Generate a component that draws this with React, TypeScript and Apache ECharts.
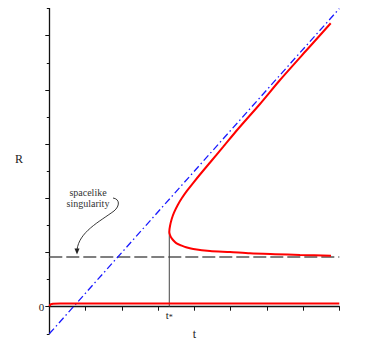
import React, { useEffect, useRef } from "react";
import * as echarts from "echarts";

// ---- data ----
const tStar = 3.31;
const rTurn = 2.77;
const singularityR = 1.83;
const asymptote: [number, number][] = [[0, -1], [8, 11]];
const lowerBranch: [number, number][] = [
  [0, 0.02], [0.04, 0.09], [0.1, 0.11], [0.3, 0.12], [8, 0.12],
];
const upperCurve: [number, number][] = [
  [7.772, 1.882], [6.916, 1.908], [6.226, 1.937], [5.537, 1.97], [4.985, 2.018],
  [4.433, 2.055], [3.972, 2.129], [3.772, 2.192], [3.606, 2.277], [3.537, 2.317],
  [3.473, 2.38], [3.377, 2.524], [3.33, 2.646], [3.31, 2.768], [3.331, 2.987],
  [3.377, 3.238], [3.443, 3.481], [3.54, 3.746], [3.654, 3.999], [3.796, 4.271],
  [3.966, 4.562], [4.174, 4.906], [4.44, 5.33], [4.795, 5.896], [5.206, 6.557],
  [5.812, 7.48], [6.364, 8.365], [7.101, 9.472], [7.763, 10.458],
];
const singularity: [number, number][] = [[0, singularityR], [8, singularityR]];
const tStarLine: [number, number][] = [[tStar, 0], [tStar, rTurn]];
const xTicks = [1, 2, 3, 4, 5, 6, 7, 8];
const yMajorTicks = [0, 2, 4, 6, 8, 10];
const yMinorTicks = [-1, 1, 3, 5, 7, 9, 11];
const yLabels = [0];
const xLabels = [tStar];

const SERIF = "'Liberation Serif', 'DejaVu Serif', serif";

export default function App() {
  const ref = useRef<HTMLDivElement>(null);
  useEffect(() => {
    if (!ref.current) return;
    const chart = echarts.init(ref.current, undefined, { renderer: "svg" });
    chart.setOption({
      animation: false,
      backgroundColor: "#ffffff",
      grid: { left: 49.3, right: 32.7, top: 8.6, bottom: 30.2, outerBoundsMode: "none", containLabel: false },
      xAxis: {
        type: "value",
        min: 0,
        max: 8,
        interval: 1,
        name: "t",
        nameLocation: "middle",
        nameGap: -6,
        nameMoveOverlap: false,
        nameTextStyle: { fontFamily: SERIF, fontSize: 12, color: "#222" },
        axisLine: { onZero: true, onZeroAxisIndex: 0, lineStyle: { color: "#111", width: 1.3 } },
        axisTick: { show: true, inside: false, length: 4, customValues: xTicks, lineStyle: { color: "#111" } },
        axisLabel: {
          show: true,
          customValues: xLabels,
          margin: -26,
          formatter: () => "{a|t}{b|*}",
          rich: {
            a: { fontFamily: SERIF, fontSize: 11, color: "#222" },
            b: { fontFamily: SERIF, fontSize: 8, color: "#222", verticalAlign: "bottom", padding: [6, 0, 0, 0] },
          },
        },
        splitLine: { show: false },
      },
      yAxis: [
        {
          type: "value",
          min: -1,
          max: 11,
          interval: 1,
          position: "left",
          axisLine: { show: true, onZero: false, lineStyle: { color: "#111", width: 1.3 } },
          axisTick: { show: true, length: 4, customValues: yMajorTicks, lineStyle: { color: "#111" } },
          axisLabel: {
            show: true,
            customValues: yLabels,
            margin: 5,
            formatter: (v: number) => String(v),
            fontFamily: SERIF,
            fontSize: 11,
            color: "#222",
          },
          splitLine: { show: false },
        },
        {
          type: "value",
          min: -1,
          max: 11,
          interval: 1,
          position: "left",
          offset: 0,
          axisLine: { show: false, onZero: false },
          axisTick: { show: true, length: 2.5, customValues: yMinorTicks, lineStyle: { color: "#111" } },
          axisLabel: { show: false },
          splitLine: { show: false },
        },
      ],
      series: [
        {
          type: "line",
          data: singularity,
          symbol: "none",
          lineStyle: { color: "#555", width: 1.5, type: [13, 4] },
          z: 2,
        },
        {
          type: "line",
          data: asymptote,
          symbol: "none",
          lineStyle: { color: "#1a1aff", width: 1.3, type: [7, 3, 1.5, 3] },
          z: 3,
        },
        {
          type: "line",
          data: tStarLine,
          symbol: "none",
          lineStyle: { color: "#444", width: 1 },
          z: 2,
        },
        {
          type: "line",
          data: lowerBranch,
          symbol: "none",
          lineStyle: { color: "#ff0000", width: 2 },
          z: 4,
        },
        {
          type: "line",
          data: upperCurve,
          symbol: "none",
          smooth: 0.25,
          lineStyle: { color: "#ff0000", width: 2 },
          z: 4,
        },
      ],
      graphic: [
        {
          type: "text",
          x: 19,
          y: 159,
          style: {
            text: "R",
            fontFamily: SERIF,
            fontSize: 12,
            fill: "#222",
            align: "center",
            verticalAlign: "middle",
          },
        },
        {
          type: "text",
          x: 88,
          y: 198,
          style: {
            text: "spacelike\nsingularity",
            fontFamily: SERIF,
            fontSize: 10,
            lineHeight: 11,
            fill: "#333",
            align: "center",
            verticalAlign: "middle",
          },
        },
        {
          type: "bezierCurve",
          shape: { x1: 113, y1: 198, cpx1: 120, cpy1: 199, cpx2: 120, cpy2: 206, x2: 114, y2: 211 },
          style: { stroke: "#222", lineWidth: 0.9, fill: null },
        },
        {
          type: "bezierCurve",
          shape: { x1: 114, y1: 211, cpx1: 99, cpy1: 222, cpx2: 79, cpy2: 232, x2: 77, y2: 250 },
          style: { stroke: "#222", lineWidth: 0.9, fill: null },
        },
        {
          type: "polygon",
          shape: { points: [[74.5, 248.5], [79.5, 248.5], [77, 254.5]] },
          style: { fill: "#222" },
        },
      ],
    });
    return () => chart.dispose();
  }, []);
  return <div ref={ref} style={{ width: 372, height: 364, margin: -8 }} />;
}
